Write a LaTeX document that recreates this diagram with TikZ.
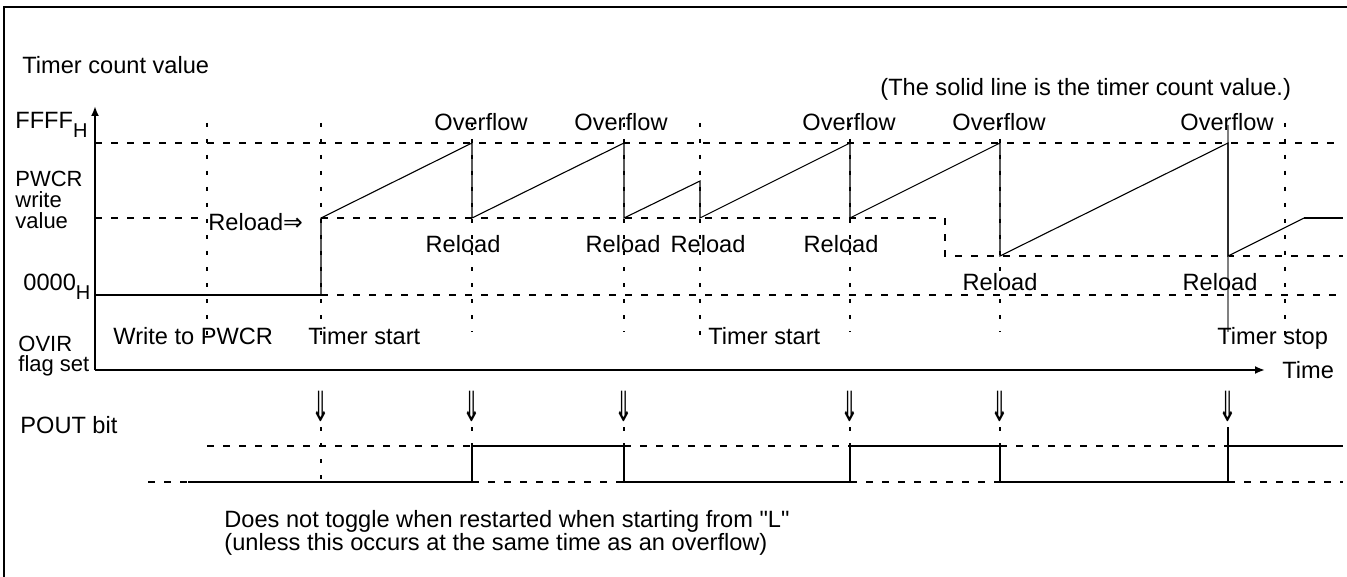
\documentclass[tikz,border=0pt]{standalone}
\usepackage{fontspec}
\usepackage{graphicx}
\setmainfont{Liberation Sans}[Ligatures=TeXOff]
\newfontfamily\arrowfont{DejaVu Sans}
\usetikzlibrary{arrows.meta}
\begin{document}
\begin{tikzpicture}[x=0.5pt,y=-0.5pt,
  font=\fontsize{11.8}{13}\selectfont,
  lbl/.style={inner sep=0pt, anchor=base west},
  lblc/.style={inner sep=0pt, anchor=base},
  stack/.style={lbl, font=\fontsize{11}{12}\selectfont},
  hdash/.style={line width=0.7pt, dash pattern=on 3.5pt off 4.5pt},
  vdot/.style={line width=0.7pt, dash pattern=on 2pt off 6pt},
  cnt/.style={line width=0.55pt},
  heavy/.style={line width=1pt},
  dnarrow/.style={inner sep=0pt, font=\arrowfont\fontsize{16}{16}\selectfont}
]
\useasboundingbox (0,0) rectangle (1347,577);
% frame
\draw[heavy] (4,577) -- (4,7.5) -- (1347,7.5);

% axes
\coordinate (O) at (95,370);
\coordinate (ytip) at (95,106);
\coordinate (xtip) at (1265,370);
\draw[heavy,-{Latex[length=5pt,width=4pt]}] (O) -- (ytip);
\draw[heavy,-{Latex[length=5pt,width=4pt]}] (O) -- (xtip);

% horizontal reference lines
\draw[hdash] (95,143) -- (1343,143);
\draw[hdash] (95,218) -- (207,218);
\draw[hdash] (321,218) -- (945,218) -- (945,256) -- (1343,256);
\draw[hdash] (321,295) -- (1343,295);
\draw[heavy] (95,295) -- (321,295);

% vertical dotted guides
\foreach \x/\b in {207/345,321/345,472/332,624/332,700/345,850/332,1000/332,1285/345}
  \draw[vdot] (\x,123) -- (\x,\b);
\draw[gray, line width=0.6pt] (1228,125) -- (1228,332);

% timer count value
\draw[cnt] (321,295) -- (321,218) -- (472,143) -- (472,218) -- (624,143) -- (624,218)
  -- (700,181) -- (700,218) -- (850,143) -- (850,218) -- (1000,143) -- (1000,256)
  -- (1228,143) -- (1228,256) -- (1304,218);
\draw[heavy] (1304,218) -- (1343,218);

% POUT waveform
\foreach \x in {472,624,850,1000} \draw[vdot] (\x,427) -- (\x,446);
\draw[vdot] (321,427) -- (321,482);
\draw[hdash] (148,482) -- (188,482);
\draw[hdash] (207,446) -- (472,446);
\draw[hdash] (624,446) -- (850,446);
\draw[hdash] (1000,446) -- (1228,446);
\draw[hdash] (472,482) -- (624,482);
\draw[hdash] (850,482) -- (1000,482);
\draw[hdash] (1228,482) -- (1343,482);
\draw[heavy] (188,482) -- (472,482) -- (472,446) -- (624,446) -- (624,482) -- (850,482)
  -- (850,446) -- (1000,446) -- (1000,482) -- (1228,482) -- (1228,427);
\draw[heavy] (1228,446) -- (1343,446);

% down arrows
\foreach \x [count=\i] in {321,472,624,850,1000,1228}
  \node[dnarrow] (da\i) at (\x,406) {\scalebox{0.7}[1.3]{⇓}};

% texts
\node[lbl] (tcv) at (22,74) {Timer count value};
\node[lbl] (note) at (880,96) {(The solid line is the timer count value.)};
\node[lbl] (ffff) at (15,129) {FFFF\raisebox{-4.5pt}{\fontsize{10}{10}\selectfont H}};
\node[stack] (pw1) at (15,187) {PWCR};
\node[stack] (pw2) at (15,207) {write};
\node[stack] (pw3) at (15,228) {value};
\node[lbl] (zero) at (23,290) {0000\raisebox{-4.5pt}{\fontsize{10}{10}\selectfont H}};
\node[stack] (ov1) at (18,351) {OVIR};
\node[stack] (ov2) at (18,371) {flag set};
\node[lbl] (pout) at (20,433) {POUT bit};
\node[lbl] (rl0) at (208,230) {Reload{\arrowfont ⇒}};
\foreach \x [count=\i] in {481,621,849,999,1227}
  \node[lblc] (of\i) at (\x,131) {Overflow};
\foreach \x [count=\i] in {463,623,708,841}
  \node[lblc] (ra\i) at (\x,252) {Reload};
\foreach \x [count=\i] in {1000,1220}
  \node[lblc] (rb\i) at (\x,290) {Reload};
\node[lbl] (wp) at (113,344) {Write to PWCR};
\node[lbl] (ts1) at (308,344) {Timer start};
\node[lbl] (ts2) at (708,344) {Timer start};
\node[lbl] (tsp) at (1217,344) {Timer stop};
\node[lbl] (time) at (1282,378) {Time};
\node[lbl] (dn1) at (224,527) {Does not toggle when restarted when starting from "L"};
\node[lbl] (dn2) at (224,550) {(unless this occurs at the same time as an overflow)};
\end{tikzpicture}
\end{document}
